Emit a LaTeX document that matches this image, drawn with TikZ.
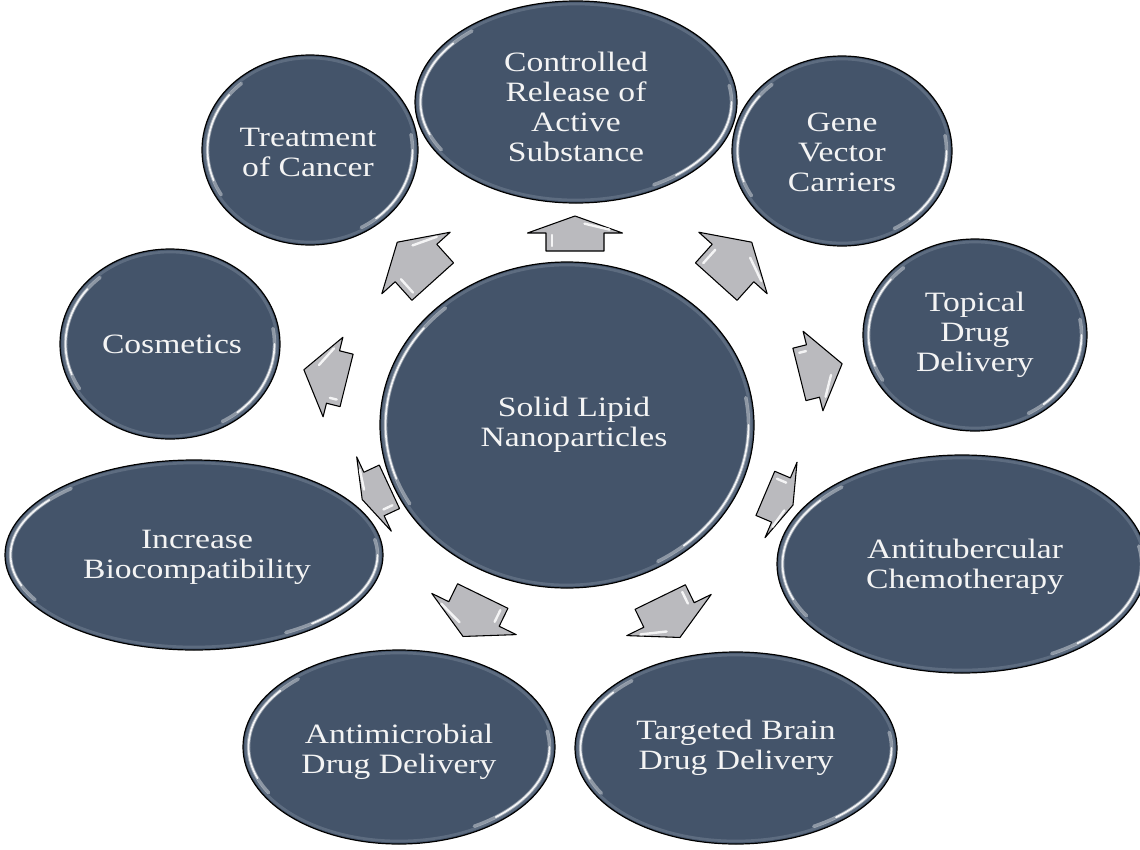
\documentclass[tikz,border=0pt]{standalone}
\usepackage{fontspec}
\setmainfont{Liberation Serif}[FakeStretch=1.2]
\usetikzlibrary{shapes.geometric,calc}
\definecolor{slate}{HTML}{44546A}
\definecolor{rimc}{HTML}{B9C3D0}
\definecolor{agray}{HTML}{BABABE}
\definecolor{txt}{HTML}{F4F4F4}
\tikzset{
  bubble/.style={ellipse, draw=black, line width=0.9pt, fill=slate, inner sep=0pt},
  rimline/.style={draw=rimc, line width=2pt, opacity=0.22},
  hlA/.style={draw=white, line width=2.6pt, opacity=0.4, line cap=round},
  hlB/.style={draw=white, line width=1.3pt, opacity=0.9, line cap=round},
  lbl/.style={text=txt, align=center, inner sep=0pt, font=\fontsize{21}{22.5}\selectfont},
  arrowbody/.style={draw=black, line width=0.8pt, fill=agray, line join=round},
  arrowhl/.style={draw=white, line width=1.8pt, opacity=0.85, line cap=round, line join=round},
  pics/barrow/.style n args={4}{code={
    \draw[arrowbody] (#1,0) -- (0,#2/2) -- (0,#3/2) -- (-#4,#3/2) -- (-#4,-#3/2) -- (0,-#3/2) -- (0,-#2/2) -- cycle;
    \draw[arrowhl] ({#1*0.55},{#2*0.10}) -- ({#1*0.2},{#2/2-13});
    \draw[arrowhl] (-2,{-#3/2+6}) -- ({-#4+5},{-#3/2+6});
  }}
}
\newcommand\mybubble[8]{%
  \node[bubble, minimum width=#4*1.5pt, minimum height=#5*1.5pt] (#1) at (#2,#3) {};
  \pgfmathsetmacro\ia{#4-3}\pgfmathsetmacro\ib{#5-3}%
  \draw[rimline] (#2,#3) ellipse [x radius=\ia, y radius=\ib];
  \pgfmathsetmacro\ha{#4-5.5}\pgfmathsetmacro\hb{#5-5.5}%
  \draw[hlA] ($(#2,#3)+(150:\ha\space and \hb)$) arc[start angle=150, end angle=228, x radius=\ha, y radius=\hb];
  \draw[hlB] ($(#2,#3)+(160:\ha\space and \hb)$) arc[start angle=160, end angle=218, x radius=\ha, y radius=\hb];
  \draw[hlA] ($(#2,#3)+(-10:\ha\space and \hb)$) arc[start angle=-10, end angle=60, x radius=\ha, y radius=\hb];
  \draw[hlB] ($(#2,#3)+(0:\ha\space and \hb)$) arc[start angle=0, end angle=50, x radius=\ha, y radius=\hb];
  \node[lbl] (#1t) at ($(#2,#3)+(#7,#8)$) {#6};
}
\begin{document}
\begin{tikzpicture}[x=0.75pt,y=-0.75pt]
\useasboundingbox (0,0) rectangle (1140,850);
\clip (0,0) rectangle (1140,850);
\fill[white] (0,0) rectangle (1140,850);

\mybubble{sln}{567}{425}{187}{163}{Solid Lipid\\Nanoparticles}{7}{0}
\mybubble{ctrl}{576}{102}{161}{101}{Controlled\\Release of\\Active\\Substance}{0}{5}
\mybubble{treat}{310}{150}{108}{95}{Treatment\\of Cancer}{-2}{2}
\mybubble{gene}{842}{151}{110}{95}{Gene\\Vector\\Carriers}{0}{1}
\mybubble{topic}{975}{335}{112}{96}{Topical\\Drug\\Delivery}{0}{0}
\mybubble{cosm}{170}{344}{110}{95}{Cosmetics}{2}{0}
\mybubble{incr}{194}{555}{189}{95}{Increase\\Biocompatibility}{3}{2}
\mybubble{tuber}{962}{564}{185}{109}{Antitubercular\\Chemotherapy}{3}{3}
\mybubble{micro}{399}{747}{156}{97}{Antimicrobial\\Drug Delivery}{0}{5}
\mybubble{brain}{736}{748}{161}{96}{Targeted Brain\\Drug Delivery}{0}{0}

\pic[rotate=90]   (a1) at (575,233) {barrow={17}{95}{58}{18}};
\pic[rotate=132]  (a2) at (416,263) {barrow={28}{92}{56}{25}};
\pic[rotate=48]   (a3) at (733,263) {barrow={28}{92}{56}{25}};
\pic[rotate=14]   (a4) at (813,371) {barrow={30}{82}{54}{14}};
\pic[rotate=-23]  (a5) at (781,500) {barrow={13}{82}{48}{17}};
\pic[rotate=-64]  (a6) at (669,615) {barrow={25}{94}{56}{20}};
\pic[rotate=-116] (a7) at (474,614) {barrow={25}{94}{56}{20}};
\pic[rotate=-155] (a8) at (374,494) {barrow={13}{82}{48}{17}};
\pic[rotate=166]  (a9) at (333,377) {barrow={30}{82}{54}{14}};
\end{tikzpicture}
\end{document}
